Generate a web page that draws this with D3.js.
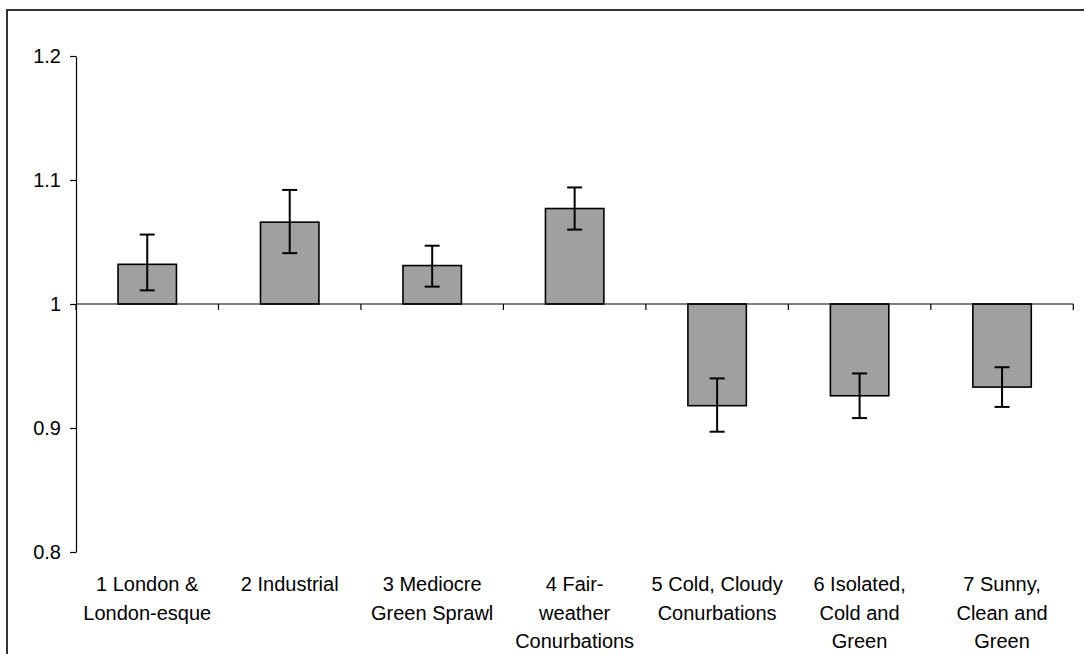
<!DOCTYPE html>
<html>
<head>
<meta charset="utf-8">
<script src="https://cdn.jsdelivr.net/npm/d3@7"></script>
<style>
  html, body { margin: 0; padding: 0; background: #fff; }
  svg { display: block; }
  text { font-family: "Liberation Sans", Arial, sans-serif; fill: #000; }
</style>
</head>
<body>
<svg id="chart" width="1084" height="654"></svg>
<script>
// Area classification groups
const categories = ["1", "2", "3", "4", "5", "6", "7"];
const categoryLabels = [
  ["1 London &", "London-esque"],
  ["2 Industrial"],
  ["3 Mediocre", "Green Sprawl"],
  ["4 Fair-", "weather", "Conurbations"],
  ["5 Cold, Cloudy", "Conurbations"],
  ["6 Isolated,", "Cold and", "Green"],
  ["7 Sunny,", "Clean and", "Green"]
];
// Ratio per group, with the upper and lower ends of its error bar
const values   = [1.032, 1.066, 1.031, 1.077, 0.918, 0.926, 0.933];
const errUpper = [1.056, 1.092, 1.047, 1.094, 0.940, 0.944, 0.949];
const errLower = [1.011, 1.041, 1.014, 1.060, 0.897, 0.908, 0.917];
const yTicks = [0.8, 0.9, 1, 1.1, 1.2];
const yTickLabels = ["0.8", "0.9", "1", "1.1", "1.2"];
const baseline = 1;

const svg = d3.select("#chart");

// Outer frame (top and left edges)
svg.append("path")
  .attr("d", "M7,654 L7,10 L1084,10")
  .attr("fill", "none")
  .attr("stroke", "#333")
  .attr("stroke-width", 2);

const plot = { left: 76, right: 1073.3, top: 56, bottom: 552 };

const x = d3.scaleBand()
  .domain(categories)
  .range([plot.left, plot.right])
  .paddingInner(0)
  .paddingOuter(0);

const y = d3.scaleLinear()
  .domain([0.8, 1.2])
  .range([plot.bottom, plot.top]);

// Y axis
const yAxis = d3.axisLeft(y)
  .tickValues(yTicks)
  .tickFormat((d, i) => yTickLabels[i])
  .tickSizeInner(6)
  .tickSizeOuter(0)
  .tickPadding(9);

const gy = svg.append("g")
  .attr("transform", `translate(${plot.left},0)`)
  .call(yAxis);
gy.select(".domain").attr("stroke", "#000").attr("stroke-width", 1.2);
gy.selectAll(".tick line").attr("stroke", "#000").attr("stroke-width", 1.2);
gy.selectAll(".tick text")
  .attr("font-size", 20)
  .attr("font-family", "Liberation Sans, Arial, sans-serif")
  .attr("fill", "#000");

// Bars hanging from the baseline
const barW = x.bandwidth() * 0.41;
svg.append("g")
  .selectAll("rect")
  .data(values)
  .join("rect")
  .attr("x", (d, i) => x(categories[i]) + (x.bandwidth() - barW) / 2)
  .attr("y", d => y(Math.max(d, baseline)))
  .attr("width", barW)
  .attr("height", d => Math.abs(y(d) - y(baseline)))
  .attr("fill", "#a0a0a0")
  .attr("stroke", "#000")
  .attr("stroke-width", 1.6);

// Category axis along the baseline
const boundaries = categories.map(c => x(c)).concat([plot.right]);
const gx = svg.append("g");
gx.append("line")
  .attr("x1", plot.left).attr("x2", plot.right)
  .attr("y1", y(baseline)).attr("y2", y(baseline))
  .attr("stroke", "#000").attr("stroke-width", 1.2);
gx.selectAll("line.tick")
  .data(boundaries)
  .join("line")
  .attr("class", "tick")
  .attr("x1", d => d).attr("x2", d => d)
  .attr("y1", y(baseline)).attr("y2", y(baseline) + 6)
  .attr("stroke", "#000").attr("stroke-width", 1.2);

// Error bars
const cap = 7.5;
const eb = svg.append("g").attr("stroke", "#000").attr("stroke-width", 2);
values.forEach((v, i) => {
  const cx = x(categories[i]) + x.bandwidth() / 2;
  eb.append("line")
    .attr("x1", cx).attr("x2", cx)
    .attr("y1", y(errUpper[i])).attr("y2", y(errLower[i]));
  eb.append("line")
    .attr("x1", cx - cap).attr("x2", cx + cap)
    .attr("y1", y(errUpper[i])).attr("y2", y(errUpper[i]));
  eb.append("line")
    .attr("x1", cx - cap).attr("x2", cx + cap)
    .attr("y1", y(errLower[i])).attr("y2", y(errLower[i]));
});

// Category labels below the plot
const lab = svg.append("g");
categoryLabels.forEach((lines, i) => {
  const cx = x(categories[i]) + x.bandwidth() / 2;
  const t = lab.append("text")
    .attr("text-anchor", "middle")
    .attr("font-size", 20)
    .attr("x", cx)
    .attr("y", 591);
  lines.forEach((ln, j) => {
    t.append("tspan")
      .attr("x", cx)
      .attr("dy", j === 0 ? 0 : 28.5)
      .text(ln);
  });
});
</script>
</body>
</html>
